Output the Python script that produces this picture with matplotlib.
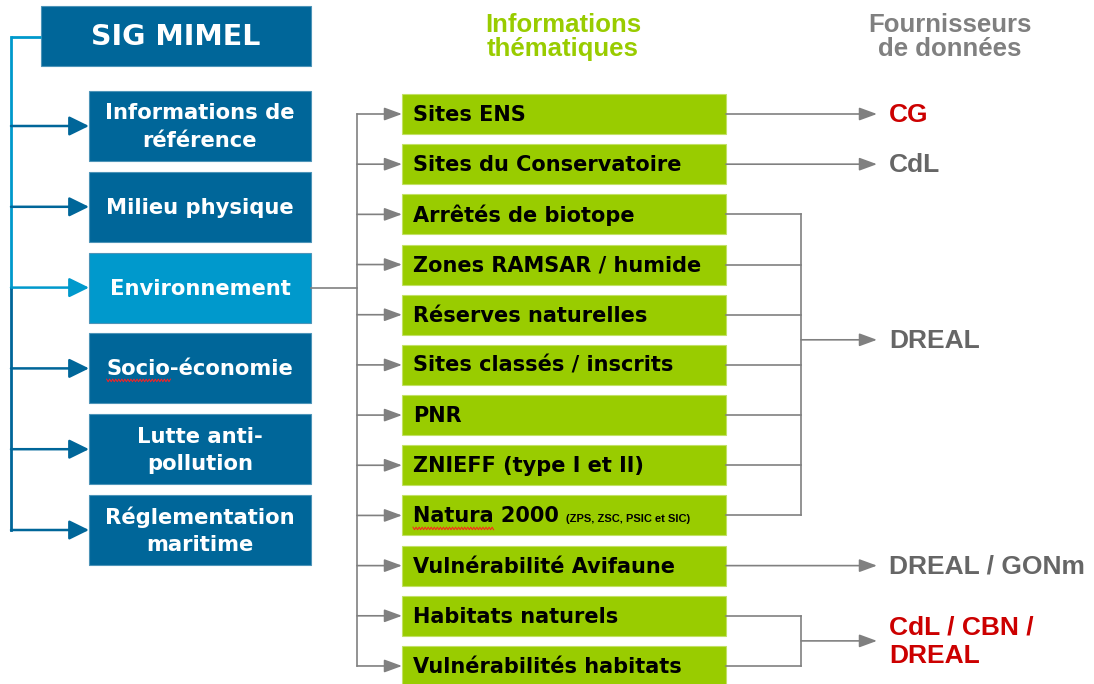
import numpy as np
import matplotlib.pyplot as plt
from matplotlib.patches import Rectangle

# ---- diagram content ----
title = "SIG MIMEL"
left_labels = ["Informations de\nréférence", "Milieu physique", "Environnement",
               "Socio-économie", "Lutte anti-\npollution", "Réglementation\nmaritime"]
left_active = 2  # the branch that is expanded

themes = ["Sites ENS", "Sites du Conservatoire", "Arrêtés de biotope",
          "Zones RAMSAR / humide", "Réserves naturelles", "Sites classés / inscrits",
          "PNR", "ZNIEFF (type I et II)", "Natura 2000", "Vulnérabilité Avifaune",
          "Habitats naturels", "Vulnérabilités habitats"]
theme_notes = {"Natura 2000": "(ZPS, ZSC, PSIC et SIC)"}

# words flagged by the spell checker in the original slide
flagged = {"Socio-économie": "Socio", "Natura 2000": "Natura"}

# providers: first theme row, last theme row, row where the arrow sits, label, highlighted
prov_first = [0, 1, 2, 9, 10]
prov_last = [0, 1, 8, 9, 11]
prov_arrow_row = [0, 1, 4.5, 9, 10.5]
prov_labels = ["CG", "CdL", "DREAL", "DREAL / GONm", "CdL / CBN /\nDREAL"]
prov_red = [True, False, False, False, True]

header_mid = "Informations\nthématiques"
header_right = "Fournisseurs\nde données"

# ---- colours ----
DARK_BLUE = "#006699"
LIGHT_BLUE = "#0099cc"
GREEN = "#99cc00"
GREY = "#808080"
DARK_GREY = "#666666"
RED = "#cc0000"

fig = plt.figure(figsize=(10.94, 6.84), dpi=100)
ax = fig.add_axes([0, 0, 1, 1])
ax.set_xlim(0, 1094)
ax.set_ylim(684, 0)
ax.axis("off")
fig.canvas.draw()
renderer = fig.canvas.get_renderer()


def arrow(x0, x1, y, color, lw=1.2, style="-|>,head_length=0.6,head_width=0.22", scale=18):
    ax.annotate("", xy=(x1, y), xytext=(x0, y),
                arrowprops=dict(arrowstyle=style, color=color, lw=lw,
                                mutation_scale=scale, shrinkA=0, shrinkB=0))


def text_width(s, **kw):
    t = ax.text(0, 0, s, **kw)
    bb = t.get_window_extent(renderer=renderer)
    t.remove()
    return bb.width


def squiggle(x0, x1, y):
    xs = np.linspace(x0, x1, int((x1 - x0) / 1.5) + 1)
    ys = y + 1.3 * np.where(np.arange(len(xs)) % 2 == 0, -1, 1)
    ax.plot(xs, ys, color="#ff2020", lw=0.7)


# ===============================
# left column
# ===============================
ax.add_patch(Rectangle((41, 6), 270, 60, facecolor=DARK_BLUE, edgecolor="#4d94b8", lw=0.8))
ax.text(176, 37, title, color="white", fontsize=20.5, fontweight="bold",
        ha="center", va="center", family="DejaVu Sans")

left_y0, left_step, left_h = 126, 80.8, 70
trunk_x = 11
left_ys = [left_y0 + i * left_step for i in range(len(left_labels))]

ax.plot([trunk_x, 41], [37, 37], color=LIGHT_BLUE, lw=2, solid_capstyle="butt")
ax.plot([trunk_x, trunk_x], [37, left_ys[left_active]], color=LIGHT_BLUE, lw=2)
ax.plot([trunk_x, trunk_x], [left_ys[left_active], left_ys[-1]], color=DARK_BLUE, lw=2)

box_font = dict(fontsize=15.2, fontweight="bold", family="DejaVu Sans")
for i, (lab, y) in enumerate(zip(left_labels, left_ys)):
    col = LIGHT_BLUE if i == left_active else DARK_BLUE
    ax.add_patch(Rectangle((89, y - left_h / 2), 222, left_h, facecolor=col,
                           edgecolor="#4d94b8", lw=0.8))
    ax.text(200, y + 1, lab, color="white", ha="center", va="center",
            linespacing=1.45, **box_font)
    arrow(trunk_x, 89, y, col, lw=1.8, style="-|>,head_length=0.55,head_width=0.27", scale=22)
    if lab in flagged:
        full = text_width(lab, **box_font)
        part = text_width(flagged[lab], **box_font)
        xs = 200 - full / 2
        squiggle(xs, xs + part, y + 12)

# ===============================
# thematic column
# ===============================
th_y0, th_step, th_h = 114, 50.18, 40
th_ys = [th_y0 + i * th_step for i in range(len(themes))]
branch_x = 357
box_l, box_r = 402, 726
green_font = dict(fontsize=15, fontweight="bold", family="DejaVu Sans")

ax.plot([311, branch_x], [left_ys[left_active]] * 2, color=GREY, lw=1.2)
ax.plot([branch_x, branch_x], [th_ys[0], th_ys[-1]], color=GREY, lw=1.2)

for name, y in zip(themes, th_ys):
    ax.add_patch(Rectangle((box_l, y - th_h / 2), box_r - box_l, th_h,
                           facecolor=GREEN, edgecolor="#c2e066", lw=0.8))
    ax.text(413, y + 1, name, color="black", ha="left", va="center", **green_font)
    arrow(branch_x, box_l, y, GREY)
    if name in theme_notes:
        w = text_width(name, **green_font)
        ax.text(413 + w + 7, y + 4, theme_notes[name], color="black", fontsize=8,
                fontweight="bold", ha="left", va="center", family="Liberation Sans")
    if name in flagged:
        squiggle(413, 413 + text_width(flagged[name], **green_font), y + 13)

ax.text(563, 37, header_mid, color=GREEN, fontsize=18.5, fontweight="bold",
        ha="center", va="center", linespacing=1.0,
        family=["Liberation Sans Narrow", "Liberation Sans"])
ax.text(950, 37, header_right, color=GREY, fontsize=18.5, fontweight="bold",
        ha="center", va="center", linespacing=1.0,
        family=["Liberation Sans Narrow", "Liberation Sans"])

# ===============================
# providers
# ===============================
join_x, tip_x = 801, 877
for first, last, row, lab, red in zip(prov_first, prov_last, prov_arrow_row,
                                      prov_labels, prov_red):
    ya = th_y0 + row * th_step
    if first == last:
        arrow(box_r, tip_x, ya, GREY)
    else:
        for k in range(first, last + 1):
            ax.plot([box_r, join_x], [th_ys[k]] * 2, color=GREY, lw=1.2)
        ax.plot([join_x, join_x], [th_ys[first], th_ys[last]], color=GREY, lw=1.2)
        arrow(join_x, tip_x, ya, GREY)
    ax.text(889, ya + 1, lab, color=RED if red else DARK_GREY, fontsize=19,
            fontweight="bold", ha="left", va="center", linespacing=1.2,
            family="Liberation Sans")

fig.savefig("out.png", dpi=100)
